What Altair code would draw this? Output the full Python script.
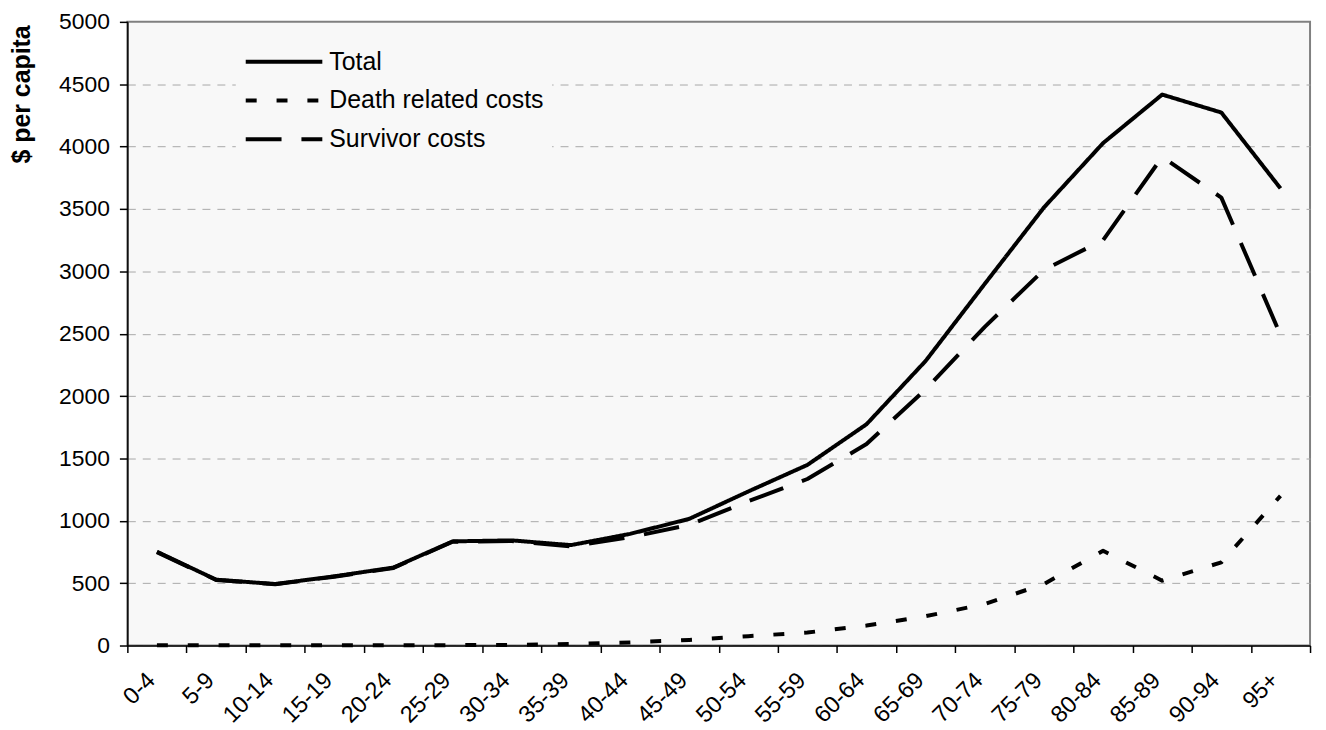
import altair as alt
import pandas as pd

age_groups = ["0-4", "5-9", "10-14", "15-19", "20-24", "25-29", "30-34", "35-39",
              "40-44", "45-49", "50-54", "55-59", "60-64", "65-69", "70-74", "75-79",
              "80-84", "85-89", "90-94", "95+"]
total = [752, 528, 493, 555, 625, 835, 843, 805, 895, 1015, 1235, 1448, 1774,
         2282, 2900, 3512, 4028, 4417, 4273, 3665]
death = [3, 2, 2, 3, 3, 3, 5, 12, 25, 45, 75, 104, 160, 235, 333, 493, 760,
         520, 667, 1200]
survivor = [749, 526, 491, 552, 622, 832, 838, 795, 868, 967, 1157, 1335, 1615,
            2054, 2555, 3012, 3250, 3917, 3591, 2490]
series_names = ["Total", "Death related costs", "Survivor costs"]
y_ticks = [0, 500, 1000, 1500, 2000, 2500, 3000, 3500, 4000, 4500, 5000]

rows = []
for name, vals in zip(series_names, [total, death, survivor]):
    for a, v in zip(age_groups, vals):
        rows.append({"age": a, "series": name, "value": v})
df = pd.DataFrame(rows)

FONT = "Liberation Sans"

chart = alt.Chart(df).mark_line(
    color="black", strokeWidth=4, strokeJoin="round", strokeCap="butt"
).encode(
    x=alt.X("age:N", sort=age_groups,
            scale=alt.Scale(type="band", paddingInner=0, paddingOuter=0),
            axis=alt.Axis(title=None, labelAngle=-45, labelAlign="right",
                          labelBaseline="middle", labelFontSize=23.5, labelFont=FONT,
                          labelColor="black", tickBand="extent", tickSize=7,
                          tickColor="black", tickWidth=1.5, domainColor="black",
                          domainWidth=1.5, labelPadding=24, labelOffset=-6,
                          grid=False, labelOverlap=False)),
    y=alt.Y("value:Q", scale=alt.Scale(domain=[0, 5000], nice=False),
            axis=alt.Axis(values=y_ticks, format="d", title="$ per capita",
                          titleFont=FONT, titleFontSize=25, titleFontWeight="bold",
                          titleColor="black", titleAngle=270, titleAlign="right",
                          titleBaseline="middle", titleX=-106, titleY=3,
                          labelFontSize=23, labelFont=FONT, labelColor="black",
                          labelPadding=10, tickSize=8, tickColor="black", tickWidth=1.5,
                          domainColor="black", domainWidth=1.5,
                          grid=True, gridColor="#a8a8a8", gridDash=[8, 7], gridWidth=1,
                          gridOpacity={"condition": {"test": "datum.value >= 5000", "value": 0}, "value": 1})),
    strokeDash=alt.StrokeDash(
        "series:N",
        scale=alt.Scale(domain=series_names, range=[[1, 0], [11, 20], [36, 20]]),
        legend=alt.Legend(title=None, orient="none", legendX=109, legendY=17,
                          padding=8, fillColor="#f8f8f8", symbolType="stroke",
                          symbolSize=5929, symbolStrokeWidth=4,
                          symbolStrokeColor="black", labelFontSize=25,
                          labelFont=FONT, labelColor="black", labelOffset=5,
                          clipHeight=30, rowPadding=9, labelLimit=400)),
).properties(
    width=1189,
    height=627,
    autosize=alt.AutoSizeParams(type="none"),
    padding={"left": 120, "top": 12, "right": 8, "bottom": 83},
    background="white",
).configure_view(
    fill="#f8f8f8", stroke="#808080", strokeWidth=2
)

chart.save("out.html", embed_options={"renderer": "svg", "actions": False})
